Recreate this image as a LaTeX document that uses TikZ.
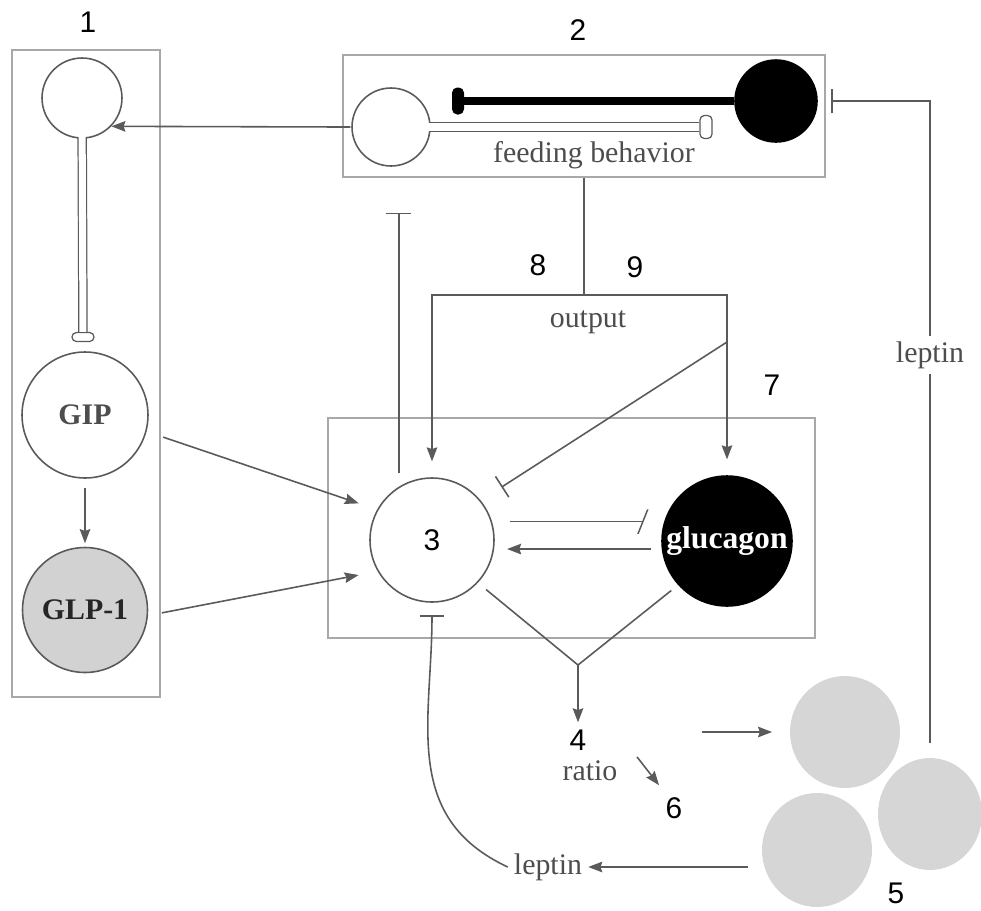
\documentclass[tikz,border=0pt]{standalone}
\usepackage{fontspec}
\setmainfont{Liberation Serif}
\newfontfamily\digitfont{Liberation Sans}
\usepackage{tikz}
\usetikzlibrary{arrows.meta, shapes.geometric, positioning}
\definecolor{linegray}{HTML}{5A5A5A}
\definecolor{boxgray}{HTML}{A8A8A8}
\definecolor{textgray}{HTML}{4D4D4D}
\definecolor{fatgray}{HTML}{D6D6D6}
\definecolor{glpgray}{HTML}{D2D2D2}

\begin{document}
\begin{tikzpicture}[x=0.02cm,y=-0.02cm,>={Stealth[length=8pt,width=6pt,inset=1pt]},
  cell/.style={circle,draw=linegray,line width=0.9pt,fill=white,inner sep=0pt,font=\fontsize{17}{20}\selectfont\bfseries,text=textgray},
  panel/.style={draw=boxgray,line width=0.8pt,inner sep=0pt},
  knob/.style={draw=linegray,fill=white,line width=0.7pt,rounded corners=2.5pt,inner sep=0pt},
  axon/.style={draw=linegray,line width=0.7pt,double=white,double distance=4pt},
  fat/.style={ellipse,fill=fatgray,inner sep=0pt},
  conn/.style={draw=linegray,line width=0.9pt},
  inh/.style={conn,-{Bar[width=14pt]}},
  lbl/.style={font=\fontsize{17}{20}\selectfont,text=textgray},
  num/.style={font=\digitfont\fontsize{17}{20}\selectfont}]
\useasboundingbox (0,0) rectangle (981,910);

\node[panel,minimum width=2.96cm,minimum height=12.94cm] (box1) at (86,373.5) {};
\node[panel,minimum width=9.64cm,minimum height=2.44cm] (box2) at (584,116) {};
\node[panel,minimum width=9.74cm,minimum height=4.4cm] (box3) at (571.5,528) {};
\node[num] (n1) at (88,22) {1};
\node[num] (n2) at (578,30) {2};

\node[cell,minimum size=1.6cm] (topcell) at (82,98) {};
\node[knob,minimum width=0.44cm,minimum height=0.18cm] (knobT) at (83,337) {};
\draw[axon,shorten <=-1pt] (topcell) -- (knobT);
\node[cell,minimum size=2.52cm] (gip) at (85,415) {GIP};
\node[cell,fill=glpgray,text=black!85,minimum size=2.5cm] (glp) at (85,610) {GLP-1};
\draw[conn,->,shorten <=5pt,shorten >=2pt] (gip) -- (glp);

\node[cell,minimum size=1.56cm] (feedcell) at (391,127) {};
\node[cell,fill=black,draw=black,minimum size=1.64cm] (blackcell) at (776,101) {};
\node[knob,minimum width=0.24cm,minimum height=0.46cm] (knobF) at (706,127) {};
\draw[axon,shorten <=-1pt] (feedcell) -- (knobF);
\node[fill=black,rounded corners=3pt,inner sep=0pt,minimum width=0.24cm,minimum height=0.54cm] (barF) at (458,101) {};
\draw[line width=4.5pt] (blackcell) -- (barF);
\node[lbl] (feedtxt) at (594,155) {feeding behavior};
\draw[conn,->,shorten <=-4.5pt] (box2.west |- feedcell) -- (topcell.-44);

\node[cell,minimum size=2.48cm,font=\digitfont\fontsize{17}{20}\selectfont,text=black] (cell3) at (432,540) {3};
\node[cell,fill=black,draw=black,text=white,minimum size=2.6cm,font=\fontsize{18}{20}\selectfont\bfseries] (gluc) at (727,541) {glucagon};
\draw[conn,->,shorten <=10pt,shorten >=11pt] (gip.-15) -- (cell3.151);
\draw[conn,->,shorten <=8pt,shorten >=11pt] (glp.-5) -- (cell3.210);

\coordinate (split) at (box2.south |- 0,295);
\draw[conn] (box2.south) -- (split);
\draw[conn,->,shorten >=9pt] (split) -| (cell3);
\draw[conn,->,shorten >=9pt] (split) -| (gluc);
\node[num] (n8) at (538,265) {8};
\node[num] (n9) at (635,267) {9};
\node[lbl] (outtxt) at (588,322) {output};
\node[num] (n7) at (772,385) {7};
\coordinate (tap) at (gluc.north |- 0,342);
\draw[inh,shorten >=14pt] (tap) -- (cell3.39);
\draw[inh,shorten <=8pt,shorten >=20pt] (cell3.122) -- (cell3.122 |- box2.south);
\draw[conn,-{Bar[width=14pt,slant=0.4]},shorten <=10pt,shorten >=10pt] (cell3.17) -- (cell3.17 -| gluc.west);
\draw[conn,->,shorten <=6pt,shorten >=7pt] (gluc.187) -- (gluc.187 -| cell3.east);

\coordinate (merge) at (578,665);
\draw[conn,shorten <=6pt] (cell3.-43) -- (merge);
\draw[conn,shorten <=5pt] (gluc.222) -- (merge);
\node[num,inner sep=1pt] (n4) at (578,740) {4};
\draw[conn,->,shorten >=3pt] (merge) -- (n4);
\node[lbl,inner sep=1pt] (ratio) at (590,771) {ratio};
\node[num] (n6) at (674,808) {6};
\draw[conn,->] ([xshift=10pt,yshift=8pt]ratio.east) -- ([xshift=-8.5pt,yshift=3.4pt]n6.north);

\node[fat,minimum width=2.2cm,minimum height=2.24cm] (fat1) at (845,732) {};
\node[fat,minimum width=2.08cm,minimum height=2.24cm] (fat2) at (930,814) {};
\node[fat,minimum width=2.2cm,minimum height=2.28cm] (fat3) at (817,850) {};
\node[num] (n5) at (896,893) {5};
\draw[conn,->,shorten >=10pt] ([xshift=-1.76cm]fat1.west) -- (fat1.west);

\node[lbl] (leptinB) at (548,867) {leptin};
\draw[conn,->,shorten <=8pt] (fat3.west |- leptinB) -- (leptinB);
\draw[inh,shorten >=7pt] (leptinB.west) to[out=155,in=-90,looseness=1.1] (cell3.south);
\draw[inh,shorten <=8.5pt,shorten >=3pt] (fat2.north) |- (box2.east |- blackcell);
\node[lbl,fill=white,inner sep=3pt] (leptinR) at (fat2.north |- 0,355) {leptin};
\end{tikzpicture}
\end{document}
